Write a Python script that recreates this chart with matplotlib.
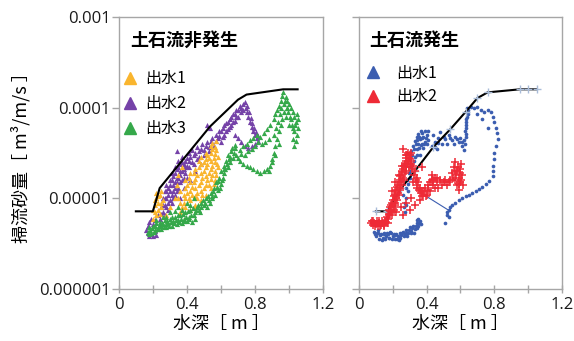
import matplotlib
matplotlib.use("Agg")
import matplotlib.pyplot as plt
from matplotlib.lines import Line2D
from matplotlib.ticker import NullLocator

plt.rcParams['font.family'] = ['Noto Sans CJK JP', 'DejaVu Sans']

# ---------------- data ----------------
# threshold (upper envelope) lines
thr_left_x = [0.10, 0.20, 0.24, 0.535, 0.70, 0.75, 0.965, 1.05]
thr_left_y = [7.2e-6, 7.2e-6, 1.3e-5, 6.2e-5, 1.23e-4, 1.4e-4, 1.6e-4, 1.6e-4]
thr_right_x = [0.10, 0.165, 0.25, 0.33, 0.44, 0.54, 0.63, 0.70, 0.76, 0.95, 1.00, 1.05]
thr_right_y = [7.2e-6, 7.2e-6, 1.3e-5, 2.0e-5, 3.7e-5, 5.8e-5, 9.0e-5, 1.28e-4, 1.48e-4, 1.6e-4, 1.6e-4, 1.6e-4]

# left panel (no debris flow): event 1 (orange)
nf1 = [(0.20, 6.0e-6), (0.21, 7.0e-6), (0.21, 8.5e-6), (0.22, 1.0e-5), (0.23, 9.0e-6), (0.22, 6.5e-6),
       (0.24, 1.1e-5), (0.25, 1.2e-5), (0.23, 7.5e-6), (0.25, 8.0e-6), (0.26, 9.5e-6), (0.24, 6.8e-6),
       (0.28, 6.5e-6), (0.30, 8.0e-6), (0.33, 1.0e-5), (0.37, 2.2e-5), (0.35, 1.8e-5),
       (0.36, 7.0e-6), (0.36, 9.0e-6), (0.36, 1.2e-5),
       (0.39, 8.0e-6), (0.39, 1.0e-5), (0.39, 1.3e-5), (0.39, 1.6e-5),
       (0.42, 7.5e-6), (0.42, 9.5e-6), (0.42, 1.2e-5), (0.42, 1.5e-5), (0.42, 1.9e-5),
       (0.45, 8.5e-6), (0.45, 1.05e-5), (0.45, 1.3e-5), (0.45, 1.65e-5), (0.45, 2.1e-5),
       (0.48, 9.5e-6), (0.48, 1.2e-5), (0.48, 1.5e-5), (0.48, 1.9e-5), (0.48, 2.4e-5), (0.48, 2.9e-5),
       (0.51, 1.1e-5), (0.51, 1.4e-5), (0.51, 1.75e-5), (0.51, 2.2e-5), (0.51, 2.7e-5), (0.51, 3.2e-5),
       (0.54, 1.3e-5), (0.54, 1.65e-5), (0.54, 2.1e-5), (0.54, 2.6e-5), (0.54, 3.2e-5), (0.54, 3.8e-5),
       (0.565, 1.6e-5), (0.565, 2.0e-5), (0.565, 2.5e-5), (0.565, 3.1e-5), (0.565, 3.7e-5), (0.57, 4.3e-5),
       (0.58, 2.2e-5), (0.58, 2.9e-5), (0.55, 4.1e-5), (0.44, 1.9e-5), (0.47, 2.6e-5), (0.40, 1.15e-5),
       (0.43, 1.35e-5), (0.50, 1.3e-5), (0.53, 1.9e-5), (0.56, 2.8e-5), (0.46, 1.15e-5), (0.49, 1.7e-5),
       (0.37, 8.0e-6), (0.38, 1.1e-5), (0.40, 1.4e-5), (0.41, 1.7e-5), (0.43, 1.1e-5), (0.44, 1.5e-5),
       (0.46, 1.8e-5), (0.47, 1.4e-5), (0.47, 2.2e-5), (0.49, 1.1e-5), (0.50, 2.0e-5), (0.50, 2.5e-5),
       (0.52, 1.6e-5), (0.52, 2.4e-5), (0.52, 3.0e-5), (0.53, 1.4e-5), (0.53, 2.8e-5), (0.55, 1.8e-5),
       (0.55, 2.3e-5), (0.55, 3.5e-5), (0.56, 1.45e-5), (0.57, 1.8e-5), (0.57, 3.4e-5), (0.575, 2.4e-5),
       (0.44, 8.0e-6), (0.41, 1.0e-5), (0.38, 9.0e-6), (0.46, 1.0e-5), (0.35, 1.0e-5), (0.34, 1.4e-5),
       (0.21, 9.5e-6), (0.22, 1.15e-5), (0.23, 1.05e-5), (0.20, 7.5e-6), (0.245, 9.0e-6)]

# left panel: event 2 (purple)
nf2 = [(0.17, 4.2e-6), (0.18, 4.8e-6), (0.19, 4.0e-6), (0.20, 5.2e-6), (0.21, 4.4e-6), (0.22, 3.9e-6),
       (0.18, 5.5e-6), (0.23, 4.6e-6), (0.20, 3.8e-6), (0.19, 6.0e-6), (0.17, 5.0e-6), (0.24, 5.2e-6),
       (0.24, 6.0e-6), (0.26, 7.0e-6), (0.27, 8.5e-6), (0.28, 1.0e-5), (0.29, 7.5e-6), (0.30, 1.2e-5),
       (0.31, 9.0e-6), (0.32, 1.4e-5), (0.33, 1.1e-5), (0.34, 1.7e-5), (0.35, 1.3e-5), (0.36, 2.0e-5),
       (0.37, 1.6e-5), (0.38, 2.4e-5), (0.39, 1.9e-5), (0.40, 2.8e-5), (0.41, 2.2e-5), (0.42, 1.6e-5),
       (0.43, 2.5e-5), (0.44, 3.0e-5), (0.45, 2.0e-5), (0.46, 2.7e-5), (0.47, 3.3e-5), (0.48, 2.4e-5),
       (0.50, 3.0e-5), (0.51, 3.8e-5), (0.53, 3.3e-5), (0.54, 4.3e-5), (0.535, 6.0e-5), (0.56, 3.8e-5),
       (0.58, 4.6e-5), (0.59, 5.5e-5), (0.60, 4.2e-5), (0.61, 6.0e-5), (0.62, 5.0e-5), (0.63, 6.8e-5),
       (0.64, 5.8e-5), (0.65, 7.5e-5), (0.66, 6.5e-5), (0.67, 8.5e-5), (0.68, 7.2e-5), (0.69, 9.5e-5),
       (0.70, 8.0e-5), (0.71, 1.05e-4), (0.72, 9.0e-5), (0.73, 1.1e-4), (0.74, 1.15e-4), (0.745, 1.0e-4),
       (0.75, 9.0e-5), (0.76, 8.0e-5), (0.77, 7.0e-5), (0.78, 6.2e-5), (0.79, 5.5e-5), (0.80, 5.0e-5),
       (0.81, 4.6e-5), (0.82, 4.3e-5), (0.80, 4.0e-5), (0.78, 3.8e-5), (0.76, 3.6e-5), (0.74, 3.8e-5),
       (0.72, 4.2e-5), (0.70, 4.6e-5), (0.68, 5.0e-5), (0.34, 3.3e-5), (0.52, 6.5e-5),
       (0.25, 8.0e-6), (0.26, 1.0e-5), (0.27, 1.2e-5), (0.28, 1.4e-5), (0.29, 1.1e-5), (0.30, 1.6e-5),
       (0.31, 1.9e-5), (0.32, 1.0e-5), (0.33, 2.2e-5), (0.34, 1.2e-5), (0.35, 2.6e-5), (0.36, 1.5e-5),
       (0.37, 2.9e-5), (0.38, 1.3e-5), (0.39, 2.2e-5), (0.40, 1.7e-5), (0.30, 9.5e-6), (0.28, 8.0e-6),
       (0.27, 6.5e-6), (0.33, 1.5e-5), (0.36, 1.0e-5), (0.57, 5.0e-5), (0.62, 6.5e-5), (0.66, 8.0e-5),
       (0.16, 4.5e-6), (0.175, 3.8e-6), (0.21, 5.8e-6), (0.23, 6.5e-6), (0.25, 6.8e-6), (0.26, 8.5e-6),
       (0.27, 1.0e-5), (0.28, 1.2e-5), (0.29, 1.3e-5), (0.29, 9.0e-6), (0.30, 1.4e-5), (0.31, 1.1e-5),
       (0.31, 1.6e-5), (0.32, 1.2e-5), (0.32, 1.75e-5), (0.33, 1.3e-5), (0.33, 1.9e-5), (0.34, 1.5e-5),
       (0.34, 2.1e-5), (0.35, 1.7e-5), (0.35, 2.2e-5), (0.36, 1.8e-5), (0.36, 2.4e-5), (0.37, 2.0e-5),
       (0.37, 2.5e-5), (0.38, 1.7e-5), (0.38, 2.1e-5), (0.39, 2.6e-5), (0.40, 2.3e-5), (0.41, 2.6e-5),
       (0.41, 3.2e-5), (0.42, 2.9e-5), (0.43, 3.4e-5), (0.44, 2.4e-5), (0.45, 3.2e-5), (0.46, 3.7e-5),
       (0.47, 2.9e-5), (0.48, 3.5e-5), (0.49, 4.0e-5), (0.50, 3.4e-5), (0.52, 4.2e-5), (0.53, 3.7e-5),
       (0.55, 4.6e-5), (0.57, 4.3e-5), (0.59, 4.9e-5), (0.60, 5.5e-5), (0.61, 4.8e-5), (0.63, 5.6e-5),
       (0.64, 7.0e-5), (0.65, 6.2e-5), (0.67, 7.0e-5), (0.68, 8.5e-5), (0.69, 8.0e-5), (0.70, 9.5e-5),
       (0.72, 1.0e-4), (0.73, 9.5e-5), (0.755, 1.05e-4), (0.765, 9.0e-5), (0.775, 7.8e-5), (0.785, 6.8e-5),
       (0.795, 6.0e-5), (0.805, 5.4e-5), (0.815, 4.9e-5)]

# left panel: event 3 (green)
nf3 = [(0.17, 4.3e-6), (0.18, 4.8e-6), (0.19, 4.2e-6), (0.20, 5.0e-6), (0.21, 4.5e-6), (0.22, 5.3e-6),
       (0.23, 4.7e-6), (0.24, 5.5e-6), (0.25, 4.9e-6), (0.26, 5.2e-6), (0.27, 5.8e-6), (0.28, 4.8e-6),
       (0.29, 5.4e-6), (0.30, 6.0e-6), (0.31, 5.0e-6), (0.32, 5.6e-6), (0.33, 6.2e-6), (0.34, 5.2e-6),
       (0.35, 5.8e-6), (0.36, 6.5e-6), (0.37, 5.4e-6), (0.38, 6.0e-6), (0.39, 7.0e-6), (0.40, 5.6e-6),
       (0.41, 6.3e-6), (0.42, 7.5e-6), (0.43, 5.5e-6), (0.44, 6.5e-6), (0.45, 7.0e-6), (0.46, 8.0e-6),
       (0.30, 7.0e-6), (0.35, 8.0e-6), (0.40, 9.0e-6), (0.44, 1.0e-5), (0.26, 6.3e-6), (0.33, 7.3e-6),
       (0.47, 7.5e-6), (0.48, 9.0e-6), (0.50, 8.5e-6), (0.51, 1.0e-5), (0.53, 9.5e-6), (0.54, 1.15e-5),
       (0.55, 1.05e-5), (0.56, 1.3e-5), (0.57, 1.5e-5), (0.58, 1.25e-5), (0.59, 1.7e-5), (0.60, 1.45e-5),
       (0.60, 2.0e-5), (0.61, 1.7e-5), (0.62, 2.3e-5), (0.62, 1.9e-5), (0.63, 2.6e-5), (0.64, 2.2e-5),
       (0.64, 3.0e-5), (0.65, 2.5e-5), (0.66, 3.3e-5), (0.67, 2.8e-5), (0.68, 3.6e-5), (0.69, 3.0e-5),
       (0.71, 3.4e-5), (0.73, 3.8e-5), (0.75, 4.0e-5), (0.77, 4.4e-5), (0.79, 4.6e-5), (0.81, 5.0e-5),
       (0.83, 4.8e-5), (0.85, 5.3e-5), (0.87, 5.8e-5), (0.89, 6.5e-5), (0.91, 7.5e-5), (0.92, 8.5e-5),
       (0.93, 9.5e-5), (0.94, 1.05e-4), (0.95, 1.2e-4), (0.965, 1.5e-4), (0.98, 1.3e-4), (0.99, 1.2e-4),
       (1.00, 1.1e-4), (1.01, 1.0e-4), (1.02, 9.0e-5), (1.03, 8.0e-5), (1.04, 7.0e-5), (1.05, 6.0e-5),
       (1.045, 5.0e-5), (1.04, 4.3e-5), (1.03, 3.8e-5), (1.02, 4.5e-5), (1.00, 6.5e-5), (0.98, 8.0e-5),
       (0.97, 9.0e-5), (0.96, 7.5e-5), (0.95, 6.5e-5), (0.94, 5.5e-5), (0.93, 4.5e-5), (0.92, 3.8e-5),
       (0.91, 3.2e-5), (0.90, 2.7e-5), (0.89, 2.3e-5), (0.87, 2.1e-5), (0.85, 2.0e-5), (0.83, 1.9e-5),
       (0.81, 2.0e-5), (0.79, 2.1e-5), (0.77, 2.2e-5), (0.75, 2.3e-5), (0.73, 2.4e-5), (0.71, 2.6e-5),
       (0.99, 1.0e-4), (1.01, 7.5e-5), (0.97, 1.1e-4), (1.03, 5.5e-5),
       (0.175, 4.0e-6), (0.185, 4.5e-6), (0.195, 4.7e-6), (0.205, 4.3e-6), (0.215, 4.9e-6), (0.225, 4.6e-6),
       (0.235, 5.0e-6), (0.245, 4.6e-6), (0.255, 5.4e-6), (0.265, 4.8e-6), (0.275, 5.2e-6), (0.285, 5.6e-6),
       (0.295, 5.0e-6), (0.305, 5.5e-6), (0.315, 6.2e-6), (0.325, 5.3e-6), (0.335, 5.8e-6), (0.345, 6.6e-6),
       (0.355, 5.5e-6), (0.365, 6.0e-6), (0.375, 6.8e-6), (0.385, 5.7e-6), (0.395, 6.3e-6), (0.405, 7.2e-6),
       (0.415, 5.9e-6), (0.425, 6.6e-6), (0.435, 7.8e-6), (0.445, 6.0e-6), (0.455, 7.5e-6), (0.465, 8.5e-6),
       (0.475, 7.0e-6), (0.485, 8.0e-6), (0.495, 9.5e-6), (0.505, 9.0e-6), (0.515, 8.0e-6), (0.525, 1.05e-5),
       (0.535, 9.0e-6), (0.545, 1.0e-5), (0.555, 1.2e-5), (0.565, 1.1e-5), (0.575, 1.35e-5), (0.585, 1.55e-5),
       (0.595, 1.3e-5), (0.605, 1.6e-5), (0.615, 2.1e-5), (0.625, 2.1e-5), (0.635, 2.4e-5), (0.645, 2.7e-5),
       (0.655, 2.9e-5), (0.665, 3.6e-5), (0.675, 3.2e-5), (0.685, 3.9e-5), (0.22, 5.8e-6), (0.28, 6.2e-6),
       (0.37, 7.5e-6), (0.42, 8.5e-6),
       (0.955, 1.0e-4), (0.96, 1.35e-4), (0.975, 1.2e-4), (0.985, 1.0e-4), (0.995, 9.0e-5), (1.005, 8.0e-5),
       (1.015, 6.5e-5), (1.025, 6.0e-5), (1.035, 6.5e-5), (1.045, 8.5e-5), (1.05, 7.5e-5), (0.945, 8.5e-5),
       (0.935, 7.0e-5), (0.925, 6.0e-5), (0.91, 5.0e-5), (0.88, 4.5e-5), (0.86, 4.2e-5), (0.84, 4.0e-5),
       (0.82, 4.2e-5), (0.80, 3.8e-5), (0.78, 3.5e-5), (0.76, 3.3e-5), (0.74, 3.0e-5), (0.72, 3.1e-5),
       (0.70, 2.8e-5), (0.88, 2.0e-5), (0.90, 2.5e-5), (0.92, 3.0e-5), (0.94, 4.0e-5)]

# right panel (debris flow): event 1 (blue)
df1 = [(0.09, 4.3e-6), (0.10, 3.8e-6), (0.11, 4.1e-6), (0.12, 3.6e-6), (0.13, 4.0e-6), (0.14, 3.7e-6),
       (0.15, 4.2e-6), (0.16, 3.8e-6), (0.17, 4.0e-6), (0.18, 3.7e-6), (0.19, 4.1e-6), (0.20, 3.8e-6),
       (0.21, 3.6e-6), (0.22, 4.0e-6), (0.23, 3.8e-6), (0.24, 4.1e-6), (0.25, 3.9e-6), (0.26, 4.3e-6),
       (0.27, 4.0e-6), (0.28, 4.5e-6), (0.29, 4.2e-6), (0.30, 4.8e-6), (0.31, 4.4e-6), (0.32, 5.0e-6),
       (0.33, 4.6e-6), (0.34, 5.3e-6), (0.35, 5.0e-6), (0.36, 5.6e-6), (0.34, 5.8e-6), (0.115, 4.5e-6),
       (0.135, 3.5e-6), (0.185, 4.3e-6), (0.235, 3.5e-6), (0.285, 3.8e-6), (0.325, 4.2e-6),
       (0.095, 4.0e-6), (0.105, 4.2e-6), (0.125, 3.9e-6), (0.145, 4.0e-6), (0.155, 3.6e-6), (0.165, 4.1e-6),
       (0.175, 3.7e-6), (0.195, 3.6e-6), (0.205, 4.0e-6), (0.215, 3.9e-6), (0.225, 3.6e-6), (0.245, 3.7e-6),
       (0.255, 4.1e-6), (0.265, 3.8e-6), (0.275, 4.2e-6), (0.295, 4.5e-6), (0.305, 4.1e-6), (0.315, 4.7e-6),
       (0.335, 5.0e-6), (0.345, 4.7e-6), (0.355, 5.4e-6), (0.365, 5.2e-6), (0.35, 6.0e-6),
       (0.27, 7.0e-6), (0.28, 8.5e-6), (0.28, 1.0e-5), (0.29, 1.2e-5), (0.29, 1.45e-5), (0.30, 1.7e-5),
       (0.27, 9.0e-6), (0.26, 1.1e-5), (0.30, 2.0e-5), (0.31, 2.4e-5), (0.265, 8.0e-6), (0.275, 1.3e-5),
       (0.285, 1.6e-5), (0.295, 1.9e-5), (0.305, 2.2e-5),
       (0.30, 2.8e-5), (0.31, 3.3e-5), (0.32, 3.8e-5), (0.33, 4.3e-5), (0.34, 4.8e-5), (0.35, 5.2e-5),
       (0.36, 4.5e-5), (0.37, 5.3e-5), (0.38, 4.8e-5), (0.39, 5.5e-5), (0.40, 5.0e-5), (0.41, 4.4e-5),
       (0.34, 3.5e-5), (0.36, 3.0e-5), (0.38, 3.6e-5), (0.40, 4.0e-5), (0.33, 2.9e-5), (0.35, 4.0e-5),
       (0.37, 4.0e-5), (0.39, 4.2e-5), (0.315, 3.0e-5), (0.325, 3.5e-5), (0.335, 4.0e-5), (0.345, 4.4e-5),
       (0.355, 4.8e-5), (0.365, 5.5e-5), (0.375, 4.6e-5), (0.385, 4.0e-5), (0.395, 4.6e-5), (0.405, 5.5e-5),
       (0.355, 3.6e-5), (0.365, 3.9e-5), (0.345, 3.0e-5), (0.325, 2.6e-5),
       (0.43, 3.8e-5), (0.45, 4.2e-5), (0.47, 4.6e-5), (0.49, 4.0e-5), (0.51, 4.5e-5), (0.53, 5.0e-5),
       (0.55, 4.4e-5), (0.57, 4.8e-5), (0.59, 4.2e-5), (0.60, 4.6e-5), (0.61, 3.8e-5), (0.62, 3.4e-5),
       (0.62, 4.4e-5), (0.63, 5.2e-5), (0.63, 6.0e-5), (0.63, 7.0e-5), (0.64, 8.0e-5), (0.64, 9.0e-5),
       (0.64, 1.0e-4), (0.44, 5.0e-5), (0.48, 5.4e-5), (0.52, 4.0e-5), (0.46, 3.5e-5),
       (0.625, 4.0e-5), (0.63, 4.8e-5), (0.625, 5.6e-5), (0.635, 6.5e-5), (0.635, 7.5e-5), (0.645, 8.5e-5),
       (0.645, 9.5e-5), (0.61, 4.2e-5), (0.58, 4.5e-5), (0.56, 4.0e-5), (0.54, 4.6e-5), (0.50, 4.8e-5),
       (0.47, 4.1e-5), (0.45, 3.7e-5),
       (0.66, 1.02e-4), (0.68, 1.0e-4), (0.70, 1.03e-4), (0.72, 9.5e-5), (0.74, 9.0e-5), (0.76, 9.5e-5),
       (0.78, 9.0e-5), (0.79, 8.0e-5), (0.80, 7.0e-5), (0.81, 6.0e-5), (0.815, 5.3e-5), (0.82, 4.5e-5),
       (0.81, 3.8e-5), (0.80, 3.2e-5), (0.80, 2.7e-5), (0.795, 2.3e-5), (0.79, 2.0e-5), (0.79, 1.75e-5),
       (0.77, 1.55e-5), (0.75, 1.45e-5), (0.73, 1.35e-5), (0.71, 1.28e-5), (0.69, 1.2e-5), (0.67, 1.15e-5),
       (0.65, 1.1e-5), (0.63, 1.05e-5), (0.61, 1.0e-5), (0.59, 9.5e-6), (0.57, 9.0e-6), (0.55, 8.5e-6),
       (0.54, 8.0e-6), (0.53, 7.5e-6), (0.52, 7.0e-6), (0.52, 6.5e-6), (0.53, 6.2e-6), (0.51, 5.3e-6),
       (0.70, 8.5e-5), (0.73, 7.5e-5), (0.76, 6.0e-5)]
# connecting segment across a data gap (blue event 1)
df1_gap_x = [0.40, 0.525]
df1_gap_y = [1.05e-5, 7.5e-6]

# right panel: event 2 (red)
df2 = [(0.07, 5.3e-6), (0.08, 5.1e-6), (0.09, 5.4e-6), (0.10, 5.2e-6), (0.11, 5.0e-6), (0.12, 5.3e-6),
       (0.13, 5.1e-6), (0.14, 5.4e-6), (0.15, 5.2e-6), (0.16, 5.5e-6), (0.17, 5.9e-6), (0.18, 6.5e-6),
       (0.18, 7.5e-6), (0.19, 8.5e-6), (0.19, 7.0e-6), (0.20, 9.5e-6), (0.20, 8.0e-6), (0.21, 1.1e-5),
       (0.21, 9.0e-6), (0.22, 1.25e-5), (0.22, 1.0e-5), (0.23, 1.4e-5), (0.23, 1.15e-5), (0.24, 1.6e-5),
       (0.24, 1.3e-5), (0.25, 1.8e-5), (0.25, 1.5e-5), (0.26, 2.1e-5), (0.26, 1.7e-5), (0.27, 2.4e-5),
       (0.27, 1.9e-5), (0.28, 2.8e-5), (0.28, 2.2e-5), (0.29, 3.2e-5), (0.29, 2.5e-5), (0.30, 3.0e-5),
       (0.30, 2.7e-5), (0.31, 2.6e-5), (0.32, 2.3e-5), (0.33, 2.0e-5), (0.34, 1.7e-5), (0.35, 1.5e-5),
       (0.36, 1.3e-5), (0.37, 1.2e-5), (0.38, 1.1e-5), (0.40, 1.1e-5), (0.42, 1.2e-5), (0.44, 1.4e-5),
       (0.43, 1.6e-5), (0.45, 1.7e-5), (0.46, 1.5e-5), (0.47, 1.3e-5), (0.48, 1.6e-5), (0.50, 1.5e-5),
       (0.52, 1.4e-5), (0.54, 1.6e-5), (0.55, 1.9e-5), (0.56, 2.2e-5), (0.57, 2.5e-5), (0.58, 2.0e-5),
       (0.59, 1.7e-5), (0.60, 1.5e-5), (0.61, 1.8e-5), (0.60, 2.1e-5), (0.58, 1.4e-5), (0.59, 1.25e-5),
       (0.22, 7.0e-6), (0.25, 8.0e-6), (0.28, 9.0e-6), (0.30, 7.5e-6), (0.33, 8.5e-6), (0.36, 9.5e-6),
       (0.26, 6.5e-6), (0.31, 1.0e-5), (0.26, 3.5e-5), (0.37, 2.2e-5), (0.43, 1.8e-5), (0.085, 5.7e-6),
       (0.12, 5.6e-6), (0.15, 5.0e-6), (0.165, 6.2e-6), (0.195, 1.2e-5), (0.215, 1.5e-5), (0.235, 1.8e-5),
       (0.255, 2.3e-5), (0.275, 3.0e-5), (0.31, 3.2e-5), (0.32, 1.5e-5), (0.34, 1.3e-5), (0.39, 1.3e-5),
       (0.41, 1.4e-5), (0.45, 1.3e-5), (0.57, 1.6e-5), (0.605, 2.4e-5),
       (0.075, 5.6e-6), (0.095, 5.0e-6), (0.105, 5.6e-6), (0.125, 5.0e-6), (0.135, 5.6e-6), (0.145, 5.1e-6),
       (0.155, 5.7e-6), (0.17, 5.3e-6), (0.175, 6.8e-6), (0.185, 7.2e-6), (0.185, 8.0e-6), (0.195, 9.0e-6),
       (0.195, 6.5e-6), (0.205, 1.05e-5), (0.205, 7.5e-6), (0.215, 1.2e-5), (0.215, 8.5e-6), (0.225, 1.35e-5),
       (0.225, 9.5e-6), (0.235, 1.5e-5), (0.235, 1.1e-5), (0.245, 1.75e-5), (0.245, 1.25e-5), (0.255, 2.0e-5),
       (0.255, 1.4e-5), (0.265, 2.3e-5), (0.265, 1.6e-5), (0.275, 2.6e-5), (0.275, 2.0e-5), (0.285, 3.0e-5),
       (0.285, 2.4e-5), (0.295, 2.8e-5), (0.295, 2.2e-5), (0.305, 2.4e-5), (0.315, 2.1e-5), (0.325, 1.8e-5),
       (0.335, 1.6e-5), (0.345, 1.4e-5), (0.355, 1.25e-5), (0.365, 1.15e-5), (0.375, 1.05e-5), (0.385, 1.2e-5),
       (0.395, 1.05e-5), (0.41, 1.25e-5), (0.42, 1.5e-5), (0.44, 1.6e-5), (0.46, 1.7e-5), (0.49, 1.4e-5),
       (0.51, 1.6e-5), (0.53, 1.5e-5), (0.555, 1.7e-5), (0.565, 2.0e-5), (0.575, 1.8e-5), (0.585, 2.2e-5),
       (0.595, 1.9e-5), (0.605, 1.6e-5), (0.615, 1.4e-5), (0.59, 1.45e-5)]

# legend labels / titles
labels_left = ['出水1', '出水2', '出水3']
labels_right = ['出水1', '出水2']
colors_left = ['#F9B52E', '#7542A8', '#35A84A']
colors_right = ['#3B5DB0', '#EE2A36']

yticks = [1e-6, 1e-5, 1e-4, 1e-3]
yticklabels = ['0.000001', '0.00001', '0.0001', '0.001']
xticks = [0, 0.2, 0.4, 0.6, 0.8, 1.0, 1.2]
xticklabels = ['0', '', '0.4', '', '0.8', '', '1.2']

# ---------------- figure ----------------
fig = plt.figure(figsize=(5.74, 3.41), dpi=100)
axL = fig.add_axes([0.207, 0.1525, 0.356, 0.797])
axR = fig.add_axes([0.6254, 0.1525, 0.3537, 0.797])

tick_font = dict(fontfamily='Open Sans', fontsize=12, color='#1a1a1a', fontweight='medium')

def style(ax, show_ylabels):
    ax.set_yscale('log')
    ax.set_xlim(0, 1.2)
    ax.set_ylim(1e-6, 1e-3)
    ax.set_xticks(xticks, labels=xticklabels, **tick_font)
    if show_ylabels:
        ax.set_yticks(yticks, labels=yticklabels, **tick_font)
    else:
        ax.set_yticks(yticks, labels=['' for _ in yticks])
    ax.yaxis.set_minor_locator(NullLocator())
    for s in ax.spines.values():
        s.set_color('#a6a6a6')
        s.set_linewidth(1.0)
    ax.tick_params(axis='x', direction='inout', length=6, width=1, color='#a6a6a6', pad=3)
    ax.tick_params(axis='y', direction='out', length=5, width=1, color='#a6a6a6', pad=1)
    ax.set_xlabel('水深［ m ］', fontsize=13, labelpad=1)

style(axL, True)
style(axR, False)
axL.set_ylabel('掃流砂量［ m³/m/s ］', fontsize=13, labelpad=6)

# left panel marks
for pts, c, z in [(nf2, colors_left[1], 2), (nf1, colors_left[0], 3), (nf3, colors_left[2], 4)]:
    axL.scatter([p[0] for p in pts], [p[1] for p in pts], marker='^', s=14, color=c,
                linewidths=0, zorder=z)
axL.plot(thr_left_x, thr_left_y, color='black', lw=1.5, zorder=6)

# right panel marks
axR.plot(df1_gap_x, df1_gap_y, color=colors_right[0], lw=0.8, zorder=2)
axR.scatter([p[0] for p in df1], [p[1] for p in df1], marker='o', s=7, color=colors_right[0],
            linewidths=0, zorder=3)
axR.plot(thr_right_x, thr_right_y, color='black', lw=1.5, zorder=4,
         marker='+', markersize=6, markeredgecolor='#a9bcd8', markeredgewidth=1.0)
axR.scatter([p[0] for p in df2], [p[1] for p in df2], marker='+', s=26, color=colors_right[1],
            linewidths=1.1, zorder=5)

# titles inside panels
axL.text(0.054, 0.915, '土石流非発生', transform=axL.transAxes, fontsize=13,
         fontweight='bold', va='center', ha='left')
axR.text(0.05, 0.915, '土石流発生', transform=axR.transAxes, fontsize=13,
         fontweight='bold', va='center', ha='left')

# legends
hL = [Line2D([], [], marker='^', ls='none', color=c, markersize=9) for c in colors_left]
legL = axL.legend(hL, labels_left, loc='upper left', bbox_to_anchor=(0.02, 0.805),
                  frameon=False, fontsize=11.5, handlelength=0.9, handletextpad=0.5,
                  labelspacing=0.5, borderpad=0, borderaxespad=0)
hR = [Line2D([], [], marker='^', ls='none', color=c, markersize=9) for c in colors_right]
legR = axR.legend(hR, labels_right, loc='upper left', bbox_to_anchor=(0.035, 0.825),
                  frameon=False, fontsize=11.5, handlelength=0.9, handletextpad=1.0,
                  labelspacing=0.4, borderpad=0, borderaxespad=0)

fig.savefig('out.png', dpi=100)
